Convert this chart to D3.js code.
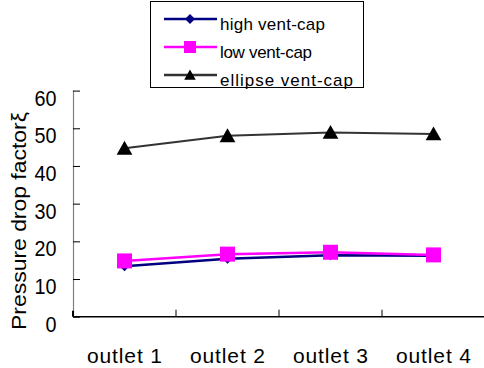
<!DOCTYPE html>
<html>
<head>
<meta charset="utf-8">
<script src="https://cdn.jsdelivr.net/npm/d3@7"></script>
<style>
  html, body { margin: 0; padding: 0; background: #fff; }
  svg { display: block; font-family: Arial, "Liberation Sans", sans-serif; }
</style>
</head>
<body>
<svg id="chart" width="484" height="368"></svg>
<script>
// Outlet categories and pressure drop factor per vent-cap type
const categories = ["outlet 1", "outlet 2", "outlet 3", "outlet 4"];
const highVentCap = [13.4, 15.4, 16.3, 16.2];
const lowVentCap = [14.8, 16.6, 17.1, 16.4];
const ellipseVentCap = [44.7, 48.0, 48.9, 48.5];
const yTicks = [0, 10, 20, 30, 40, 50, 60];
const seriesNames = ["high vent-cap", "low vent-cap", "ellipse vent-cap"];

const series = [
  { name: seriesNames[0], values: highVentCap, color: "#000080", width: 2.5, marker: "diamond", size: 10 },
  { name: seriesNames[1], values: lowVentCap, color: "#FF00FF", width: 2.5, marker: "square", size: 15 },
  { name: seriesNames[2], values: ellipseVentCap, color: "#333333", width: 2, marker: "triangle", size: 15 }
];

const svg = d3.select("#chart");
const plot = { left: 73, right: 485, top: 90.6, bottom: 316.7 };

const x = d3.scaleBand().domain(categories).range([plot.left, plot.right]);
const y = d3.scaleLinear().domain([0, 60]).range([plot.bottom, plot.top]);

// Marker shapes
function markerPath(type, s) {
  const h = s / 2;
  if (type === "diamond") return `M0,${-h}L${h},0L0,${h}L${-h},0Z`;
  if (type === "square") return `M${-h},${-h}H${h}V${h}H${-h}Z`;
  return `M0,${-h}L${h * 1.05},${h * 0.85}L${-h * 1.05},${h * 0.85}Z`;
}
function markerFill(d) { return d.marker === "triangle" ? "#000" : d.color; }

// Y axis (gray line, ticks pointing inward)
const yAxis = svg.append("g").attr("transform", `translate(${plot.left},0)`)
  .call(d3.axisRight(y).tickValues(yTicks).tickSize(7).tickFormat(""));
yAxis.select(".domain").attr("stroke", "#808080").attr("stroke-width", 1.2)
  .attr("d", `M0.5,${plot.top}V${plot.bottom}`);
yAxis.selectAll(".tick line").attr("stroke", "#000").attr("stroke-width", 1);

// Y tick labels (slightly condensed)
svg.append("g").selectAll("text").data(yTicks).join("text")
  .attr("transform", d => `translate(56.5,${y(d) + 15}) scale(0.9,1)`)
  .attr("text-anchor", "end")
  .attr("font-size", 22).attr("fill", "#000")
  .text(d => d);

// X axis (black line, ticks pointing up at band boundaries)
const xAxis = svg.append("g").attr("transform", `translate(0,${plot.bottom})`);
xAxis.append("line")
  .attr("x1", plot.left).attr("x2", plot.right)
  .attr("y1", 0).attr("y2", 0)
  .attr("stroke", "#000").attr("stroke-width", 1.5);
xAxis.selectAll(".xtick").data(categories.slice(1)).join("line")
  .attr("class", "xtick")
  .attr("x1", d => x(d)).attr("x2", d => x(d))
  .attr("y1", 0).attr("y2", -7)
  .attr("stroke", "#000").attr("stroke-width", 1);
xAxis.append("line")
  .attr("x1", plot.left).attr("x2", plot.left)
  .attr("y1", 0).attr("y2", -6)
  .attr("stroke", "#000").attr("stroke-width", 2);

// Category labels
svg.append("g").selectAll("text").data(categories).join("text")
  .attr("x", d => x(d) + x.bandwidth() / 2)
  .attr("y", 363)
  .attr("text-anchor", "middle")
  .attr("font-size", 21).attr("fill", "#000")
  .attr("textLength", 75).attr("lengthAdjust", "spacing")
  .text(d => d);

// Y axis title
svg.append("text")
  .attr("transform", "translate(26,221) scale(0.9,1) rotate(-90)")
  .attr("text-anchor", "middle")
  .attr("font-size", 23).attr("fill", "#000")
  .attr("textLength", 218).attr("lengthAdjust", "spacing")
  .text("Pressure drop factorξ");

// Series lines and markers
const line = d3.line()
  .x((v, i) => x(categories[i]) + x.bandwidth() / 2)
  .y(v => y(v));

const g = svg.append("g");
series.forEach(s => {
  g.append("path")
    .attr("d", line(s.values))
    .attr("fill", "none")
    .attr("stroke", s.color)
    .attr("stroke-width", s.width);
  g.selectAll(null).data(s.values).join("path")
    .attr("transform", (v, i) => `translate(${x(categories[i]) + x.bandwidth() / 2},${y(v)})`)
    .attr("d", markerPath(s.marker, s.size))
    .attr("fill", markerFill(s));
});

// Legend
const legend = svg.append("g");
legend.append("rect")
  .attr("x", 150.5).attr("y", 1.5).attr("width", 213).attr("height", 86)
  .attr("fill", "#fff").attr("stroke", "#000").attr("stroke-width", 1);
const rows = legend.selectAll("g.row").data(series).join("g")
  .attr("class", "row")
  .attr("transform", (d, i) => `translate(0,${19 + i * 28})`);
rows.append("line")
  .attr("x1", 164).attr("x2", 217).attr("y1", 0).attr("y2", 0)
  .attr("stroke", d => d.color).attr("stroke-width", 2.5);
rows.append("path")
  .attr("transform", "translate(190,0)")
  .attr("d", d => markerPath(d.marker, d.marker === "diamond" ? 10 : d.marker === "square" ? 12 : 11))
  .attr("fill", d => markerFill(d));
rows.append("text")
  .attr("x", 220).attr("y", 11)
  .attr("font-size", 17).attr("fill", "#000")
  .attr("textLength", (d, i) => [105, 92, 133][i]).attr("lengthAdjust", "spacing")
  .text(d => d.name);
</script>
</body>
</html>
